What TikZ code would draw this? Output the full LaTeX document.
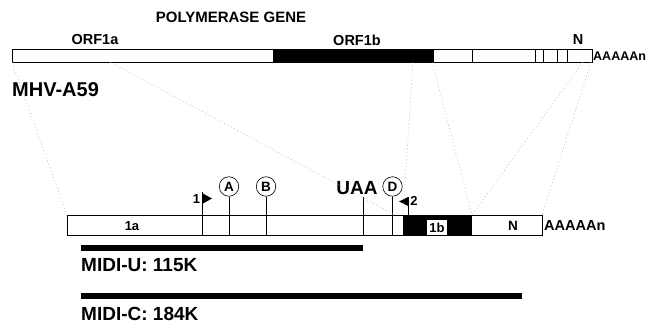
\documentclass[tikz,border=0pt]{standalone}
\usepackage{fontspec}
\setmainfont{Liberation Sans}
\usetikzlibrary{arrows.meta,positioning,calc}
\definecolor{zoomgray}{HTML}{B4B4B4}

\begin{document}
\begin{tikzpicture}[x=1pt,y=-1pt,
  bar/.style={draw,line width=0.8pt,fill=white,inner sep=0pt,anchor=north west},
  zoomline/.style={zoomgray,line width=0.45pt,dash pattern=on 1.2pt off 2.4pt},
  site/.style={draw,circle,line width=0.6pt,inner sep=0pt,minimum size=19.5pt,font=\bfseries\fontsize{13.5}{13.5}\selectfont},
  tick/.style={line width=0.6pt},
  lab/.style={font=\bfseries\fontsize{13}{13}\selectfont,inner sep=1pt}]
  \useasboundingbox (0,0) rectangle (647,323);

  % Genome (top)
  \node[font=\bfseries\fontsize{15}{15}\selectfont] (gene) at (231,17) {POLYMERASE GENE};
  \node[bar,minimum width=580pt,minimum height=13pt] (genome) at (12,49) {};
  \fill (273,49) rectangle (434,62);
  \foreach \x in {472,535,543,557,567} \draw[tick] (\x,49) -- (\x,62);
  \node[font=\bfseries\fontsize{14.5}{14.5}\selectfont] (orfa) at (95,40) {ORF1a};
  \node[font=\bfseries\fontsize{14.5}{14.5}\selectfont] (orfb) at (357,40) {ORF1b};
  \node[font=\bfseries\fontsize{14.5}{14.5}\selectfont] (ntop) at (578,40) {N};
  \node[font=\bfseries\fontsize{12.5}{12.5}\selectfont,anchor=west,inner sep=1pt] (polytop) at (592,56) {AAAAAn};
  \node[font=\bfseries\fontsize{20}{20}\selectfont,anchor=west,inner sep=0pt] (virus) at (12,89.5) {MHV-A59};

  % MIDI construct (bottom)
  \node[bar,minimum width=475pt,minimum height=20pt] (midi) at (67,215) {};
  \fill (403,215) rectangle (472,235);
  \node[lab] (seg1a) at (132,226) {1a};
  \node[lab,fill=white,inner sep=2.5pt,minimum height=15pt] (seg1b) at (437,227.5) {1b};
  \node[lab,font=\bfseries\fontsize{13.5}{13.5}\selectfont] (segn) at (513,226) {N};
  \node[font=\bfseries\fontsize{14.5}{14.5}\selectfont,anchor=west,inner sep=1pt] (polybot) at (543,226) {AAAAAn};

  % Sites
  \node[site] (sA) at (229,186.5) {A};
  \node[site] (sB) at (266,186.5) {B};
  \node[site] (sD) at (392.5,186.5) {D};
  \node[font=\bfseries\fontsize{19}{19}\selectfont,inner sep=0pt] (uaa) at (357,188) {UAA};
  \foreach \s in {sA,sB,sD} \draw[tick] (\s.south) -- (\s.south |- midi.south);
  \coordinate (stop) at (363,197);
  \draw[tick] (stop) -- (stop |- midi.south);

  % Primers
  \coordinate (p1) at (202,192);
  \draw[tick] (p1) -- (p1 |- midi.south);
  \fill (202,193) -- (212,198.5) -- (202,204) -- cycle;
  \node[lab] (p1lab) at (196.5,199) {1};
  \coordinate (p2) at (408,197);
  \draw[tick] (p2) -- (p2 |- midi.north);
  \fill (408,197) -- (399,201.5) -- (408,206) -- cycle;
  \node[lab] (p2lab) at (414,201) {2};

  % Zoom lines
  \coordinate (g0) at (12,62);   \coordinate (m0) at (67,215);
  \coordinate (g1) at (110,62);  \coordinate (m1) at (395,215);
  \coordinate (g2) at (413,62);  \coordinate (m2) at (403,215);
  \coordinate (g3) at (432,62);  \coordinate (m3) at (472,215);
  \coordinate (g4) at (583,62);  \coordinate (m4) at (472,215);
  \coordinate (g5) at (591,62);  \coordinate (m5) at (542,215);
  \foreach \i in {0,...,5} \draw[zoomline] (g\i) -- (m\i);

  % Transcripts
  \node[fill,inner sep=0pt,anchor=north west,minimum width=282pt,minimum height=6pt] (midiu) at (81,245) {};
  \node[font=\bfseries\fontsize{19}{19}\selectfont,anchor=west,inner sep=0pt] (midiulab) at (81,265) {MIDI-U: 115K};
  \node[fill,inner sep=0pt,anchor=north west,minimum width=441pt,minimum height=6pt] (midic) at (81,292.5) {};
  \node[font=\bfseries\fontsize{19}{19}\selectfont,anchor=west,inner sep=0pt] (midiclab) at (81,313.5) {MIDI-C: 184K};
\end{tikzpicture}
\end{document}
